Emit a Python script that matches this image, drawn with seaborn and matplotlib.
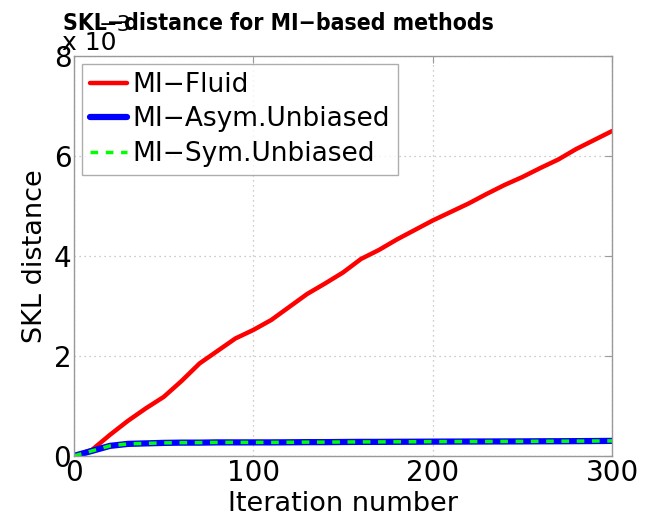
import matplotlib
matplotlib.use("Agg")
import matplotlib.pyplot as plt
import seaborn as sns
import pandas as pd
import numpy as np

iterations = [0, 10, 20, 30, 40, 50, 60, 70, 80, 90, 100, 110, 120, 130, 140, 150,
              160, 170, 180, 190, 200, 210, 220, 230, 240, 250, 260, 270, 280, 290, 300]
mi_fluid = [0.0, 0.12, 0.42, 0.70, 0.95, 1.18, 1.50, 1.85, 2.10, 2.35, 2.52, 2.72, 2.98,
            3.24, 3.45, 3.67, 3.94, 4.12, 4.33, 4.52, 4.71, 4.88, 5.05, 5.24, 5.42, 5.58,
            5.76, 5.93, 6.14, 6.32, 6.50]
mi_asym = [0.0, 0.10, 0.20, 0.24, 0.25, 0.26, 0.265, 0.265, 0.27, 0.27, 0.27, 0.27, 0.272,
           0.275, 0.275, 0.278, 0.28, 0.28, 0.282, 0.283, 0.285, 0.286, 0.287, 0.288, 0.289,
           0.29, 0.292, 0.293, 0.295, 0.297, 0.30]
mi_sym = list(mi_asym)
scale = 1e-3
labels = ["MI\u2212Fluid", "MI\u2212Asym.Unbiased", "MI\u2212Sym.Unbiased"]

df = pd.DataFrame({
    "it": iterations,
    "fluid": np.array(mi_fluid) * scale,
    "asym": np.array(mi_asym) * scale,
    "sym": np.array(mi_sym) * scale,
})

sns.set_style("white")
plt.rcParams['font.family'] = ['DejaVu Sans']
plt.rcParams['text.color'] = 'black'
plt.rcParams['axes.labelcolor'] = 'black'
plt.rcParams['xtick.color'] = 'black'
plt.rcParams['ytick.color'] = 'black'

fig = plt.figure(figsize=(6.61, 5.24), dpi=100)
ax = fig.add_axes([0.112, 0.130, 0.814, 0.763])

sns.lineplot(data=df, x="it", y="fluid", ax=ax, color="#ff0000", linewidth=3.2, label=labels[0])
sns.lineplot(data=df, x="it", y="asym", ax=ax, color="#0000ff", linewidth=4.5, label=labels[1])
sns.lineplot(data=df, x="it", y="sym", ax=ax, color="#00ff00", linewidth=2.5,
             linestyle=(0, (2.2, 2.2)), label=labels[2])

ax.set_xlim(0, 300)
ax.set_ylim(0, 8e-3)
ax.set_xticks([0, 100, 200, 300])
ax.set_yticks([0, 2e-3, 4e-3, 6e-3, 8e-3])
ax.set_xticklabels(["0", "100", "200", "300"])
ax.set_yticklabels(["0", "2", "4", "6", "8"])
ax.tick_params(axis="both", labelsize=20, direction="in", length=5, color="#999999",
               labelcolor="black", top=True, right=True, pad=2)
ax.grid(True, linestyle=(0, (1, 3)), color="#bbbbbb", linewidth=0.9)
for s in ax.spines.values():
    s.set_color("#999999")
    s.set_linewidth(1.0)

ax.set_xlabel("Iteration number", fontsize=19.5, labelpad=3, color="black")
ax.set_ylabel("SKL distance", fontsize=19.5, labelpad=4, color="black")
fig.text(62 / 661, 1 - 50 / 524, "x 10", fontsize=18, ha="left",
         va="baseline", color="black")
fig.text(99 / 661, 1 - 31 / 524, "\u22123", fontsize=16, ha="left",
         va="baseline", color="black")
fig.text(63 / 661, 1 - 30 / 524, "SKL\u2212distance for MI\u2212based methods",
         fontsize=16.5, fontweight="bold", fontstretch="condensed", ha="left",
         va="baseline", color="black")

leg = ax.legend(loc="upper left", fontsize=19, frameon=True, fancybox=False,
                handlelength=1.4, handletextpad=0.2, borderpad=0.3, labelspacing=0.32,
                borderaxespad=0.3)
leg.get_frame().set_edgecolor("#999999")
leg.get_frame().set_linewidth(1.0)
for t in leg.get_texts():
    t.set_color("black")

fig.savefig("out.png", dpi=100)
